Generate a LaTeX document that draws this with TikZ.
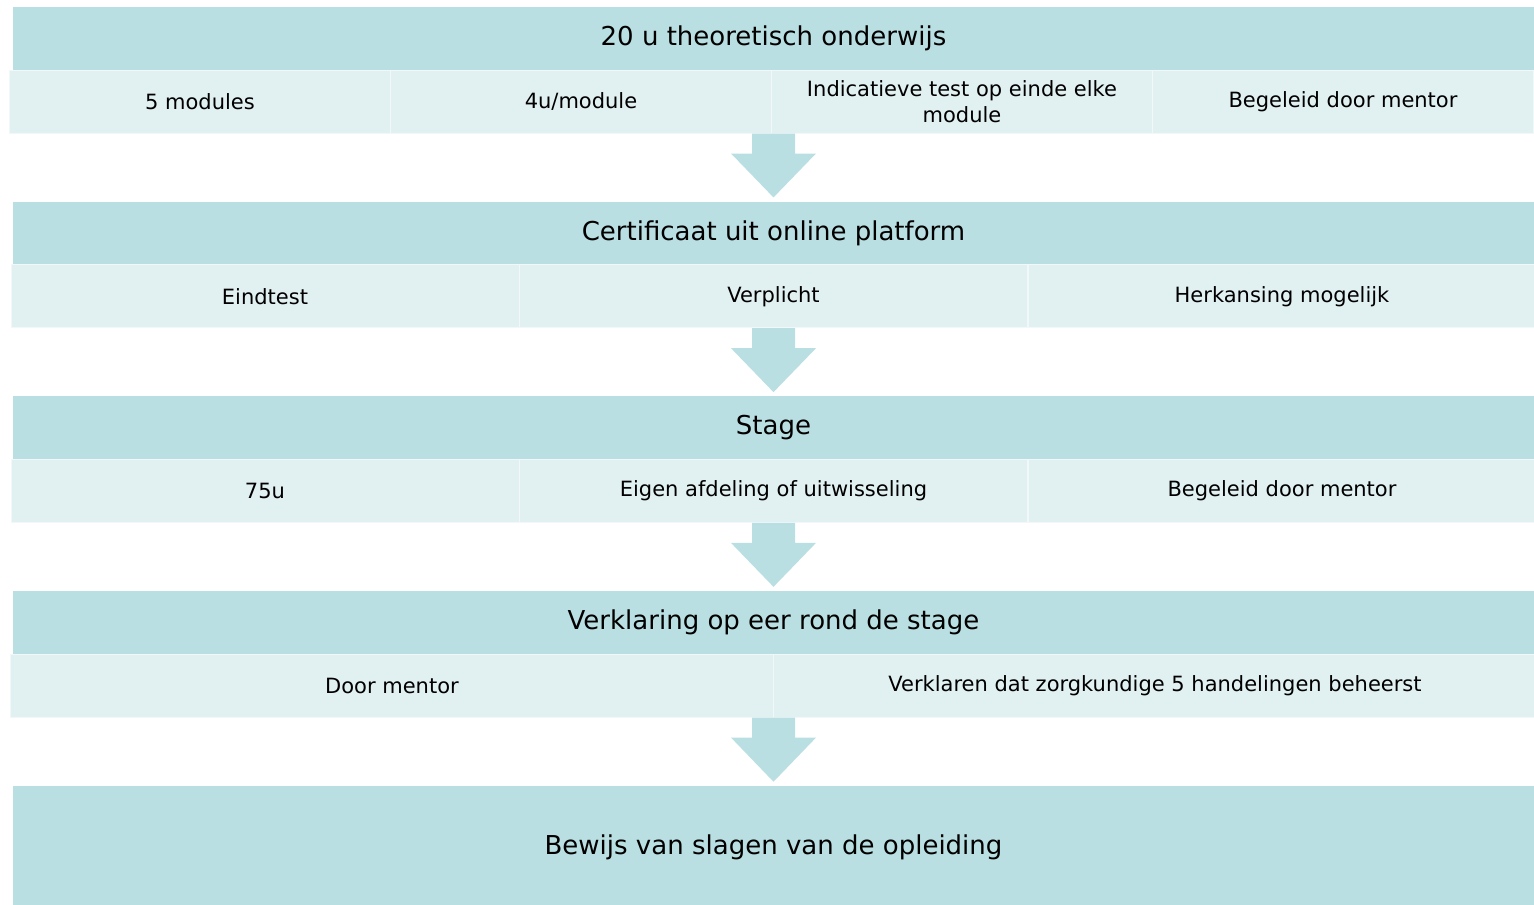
\documentclass[tikz,border=0pt]{standalone}
\usepackage{fontspec}
\setmainfont{DejaVu Sans}
\usetikzlibrary{calc}

\definecolor{headblue}{HTML}{B9DFE2}
\definecolor{subblue}{HTML}{E1F0F1}

\tikzset{
    headbar/.style={fill=headblue, inner sep=0pt, minimum width=1140.75pt,
        minimum height=47.25pt, font=\fontsize{19.5}{23}\selectfont},
    subcell/.style={fill=subblue, draw=white!55!subblue, line width=0.75pt,
        inner sep=0pt, minimum height=47.25pt, align=center,
        font=\fontsize{15.75}{19.5}\selectfont},
    arrowfill/.style={fill=headblue}
}

% block arrow from the bottom of a sub row down to the next header
\newcommand{\flowarrow}[2]{%
    \coordinate (top) at (#2.north |- #1.south);
    \fill[arrowfill] ($(top)+(-21.5,0)$) -- ($(top)+(21.5,0)$)
        -- ($(top)+(21.5,20)$) -- ($(top)+(42.5,20)$)
        -- ($(#2.north)+(0,-4)$)
        -- ($(top)+(-42.5,20)$) -- ($(top)+(-21.5,20)$) -- cycle;
}

\begin{document}
\begin{tikzpicture}[x=0.75pt, y=-0.75pt]
    \useasboundingbox (0,0) rectangle (1534,904);

    % headers
    \node[headbar] (h1) at (773.5,38.5) {20 u theoretisch onderwijs};
    \node[headbar] (h2) at (773.5,233.2) {Certificaat uit online platform};
    \node[headbar] (h3) at (773.5,427.9) {Stage};
    \node[headbar] (h4) at (773.5,622.6) {Verklaring op eer rond de stage};
    \node[headbar, minimum height=91.5pt] (h5) at (773.5,847) {Bewijs van slagen van de opleiding};

    % sub rows
    \begin{scope}[every node/.style={subcell, minimum width=285.75pt}]
        \node (s1a) at (200,101.5) {5 modules};
        \node (s1b) at (581,101.5) {4u/module};
        \node (s1c) at (962,101.5) {Indicatieve test op einde elke\\module};
        \node (s1d) at (1343,101.5) {Begeleid door mentor};
    \end{scope}
    \begin{scope}[every node/.style={subcell, minimum width=381pt}]
        \node (s2a) at (265,296.2) {Eindtest};
        \node (s2b) at (773.5,296.2) {Verplicht};
        \node (s2c) at (1282,296.2) {Herkansing mogelijk};
        \node (s3a) at (265,490.9) {75u};
        \node (s3b) at (773.5,490.9) {Eigen afdeling of uitwisseling};
        \node (s3c) at (1282,490.9) {Begeleid door mentor};
    \end{scope}
    \begin{scope}[every node/.style={subcell, minimum width=573pt}]
        \node (s4a) at (392,685.6) {Door mentor};
        \node (s4b) at (1155,685.6) {Verklaren dat zorgkundige 5 handelingen beheerst};
    \end{scope}

    \flowarrow{s1b}{h2}
    \flowarrow{s2b}{h3}
    \flowarrow{s3b}{h4}
    \flowarrow{s4a}{h5}
\end{tikzpicture}
\end{document}
